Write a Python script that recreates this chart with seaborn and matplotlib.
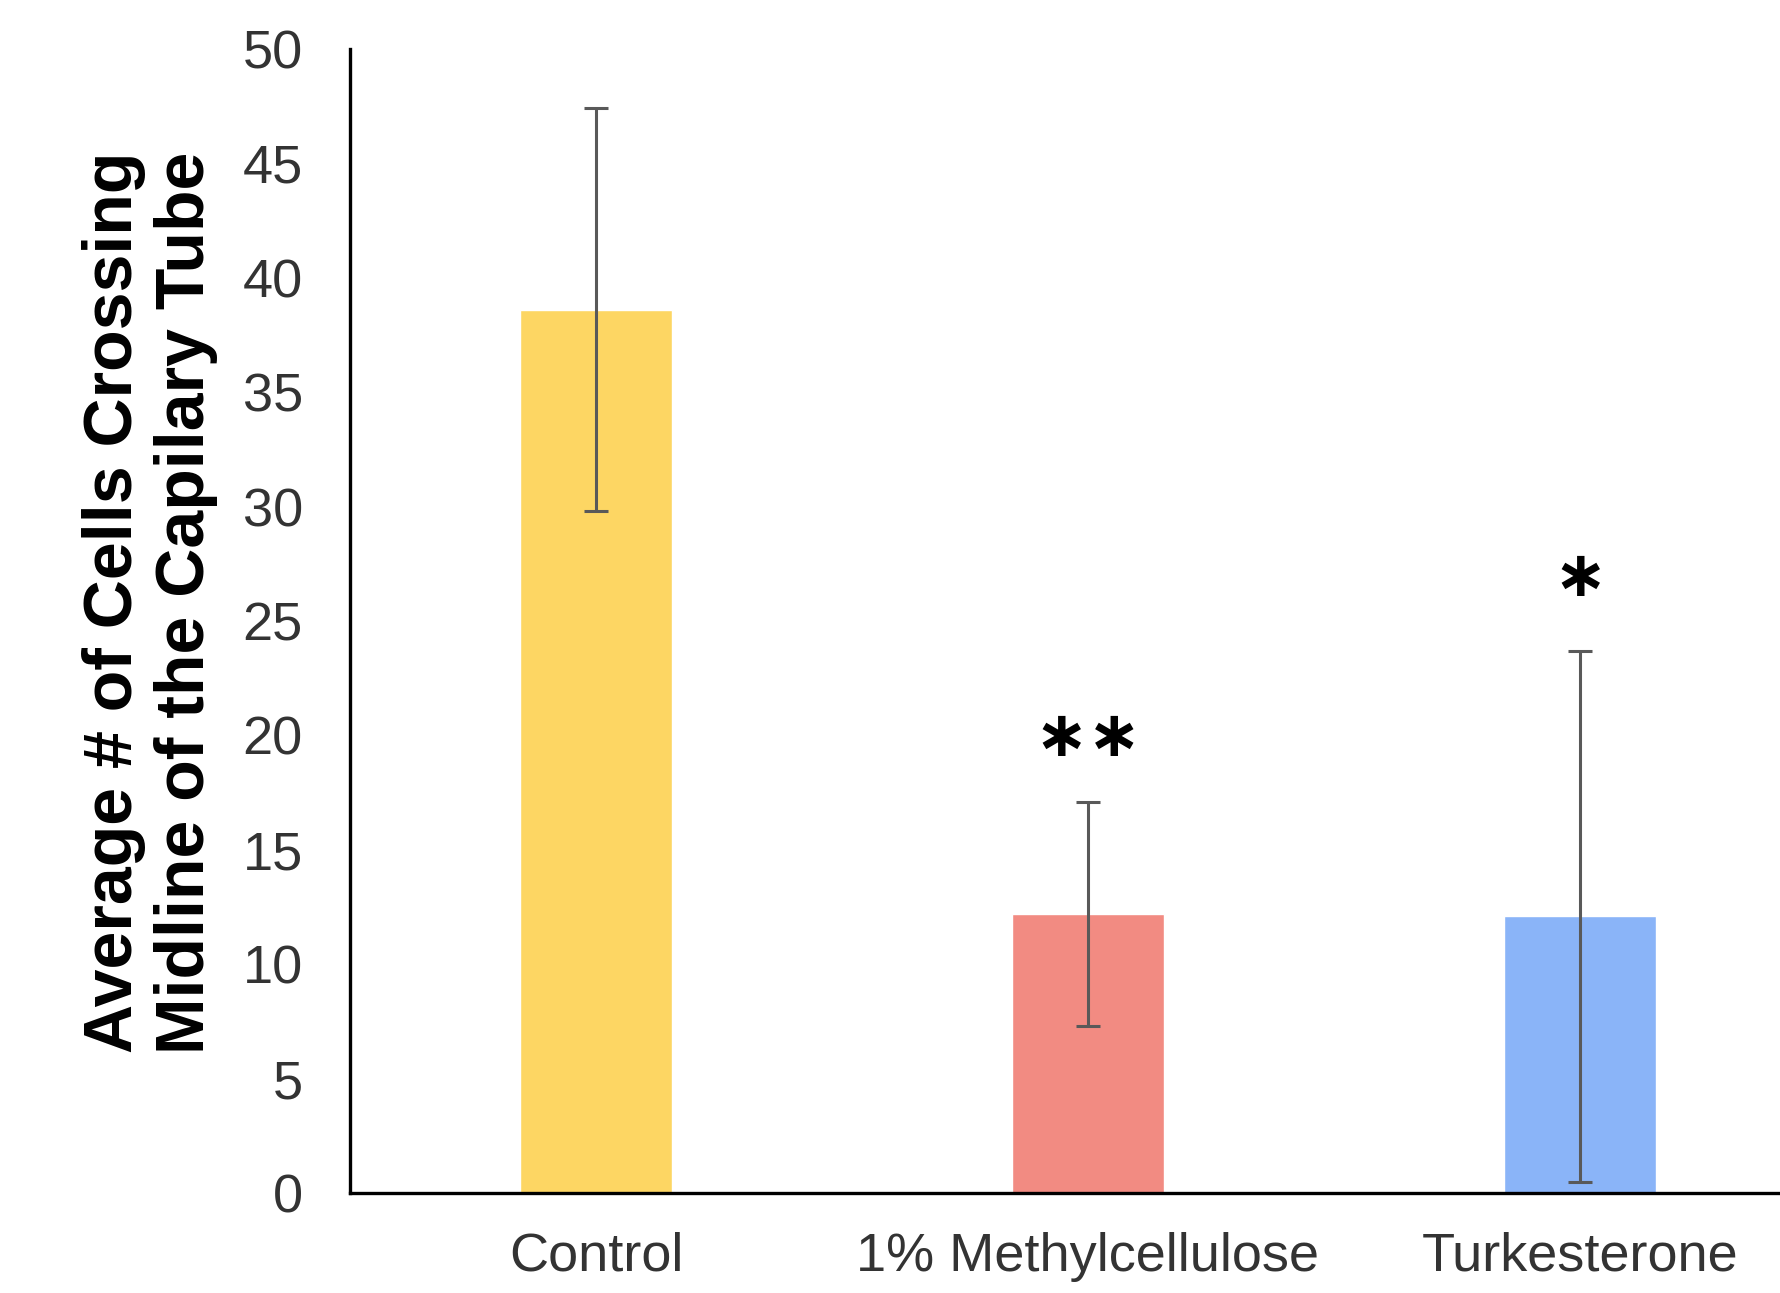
import matplotlib
matplotlib.use("Agg")
import matplotlib.pyplot as plt
import seaborn as sns
import pandas as pd

treatments = ["Control", "1% Methylcellulose", "Turkesterone"]
means = [38.6, 12.2, 12.1]
errors = [8.8, 4.9, 11.6]
stars = ["", "\u2217\u2217", "\u2217"]
star_y = [None, 19.9, 26.9]
colors = ["#FDD663", "#F28B82", "#8AB4F8"]

df = pd.DataFrame({"Treatment": treatments, "Mean": means})

sns.set_style("white")
plt.rcParams["font.family"] = ["Liberation Sans", "DejaVu Sans"]

fig = plt.figure(figsize=(17.81, 12.93), dpi=100)
ax = fig.add_axes([350 / 1781, 100 / 1293, 1476 / 1781, 1144 / 1293])

sns.barplot(data=df, x="Treatment", y="Mean", hue="Treatment", palette=colors,
            width=0.31, legend=False, saturation=1, ax=ax)
ax.errorbar(range(len(treatments)), means, yerr=errors, fmt="none",
            ecolor="#595959", elinewidth=2.2, capsize=8.5, capthick=2.2)

# significance marks
for i, s in enumerate(stars):
    if s:
        ax.text(i, star_y[i], s, ha="center", va="center", fontsize=46,
                fontweight="bold", family="DejaVu Sans", color="black")

ax.set_ylim(0, 50)
ax.set_xlim(-0.5, 2.5)
ax.set_yticks(range(0, 51, 5))
ax.tick_params(axis="y", length=0, pad=34, labelsize=39, labelcolor="#333333")
ax.tick_params(axis="x", length=0, pad=28, labelsize=39, labelcolor="#333333")
ax.set_xlabel("")
ax.set_ylabel("Average # of Cells Crossing\nMidline of the Capilary Tube",
              fontsize=49, fontweight="bold", linespacing=1.15, labelpad=18,
              color="black")
ax.yaxis.label.set_y(0.516)

sns.despine(ax=ax)
for side in ["left", "bottom"]:
    ax.spines[side].set_color("black")
    ax.spines[side].set_linewidth(2.4)

fig.savefig("out.png", dpi=100)
